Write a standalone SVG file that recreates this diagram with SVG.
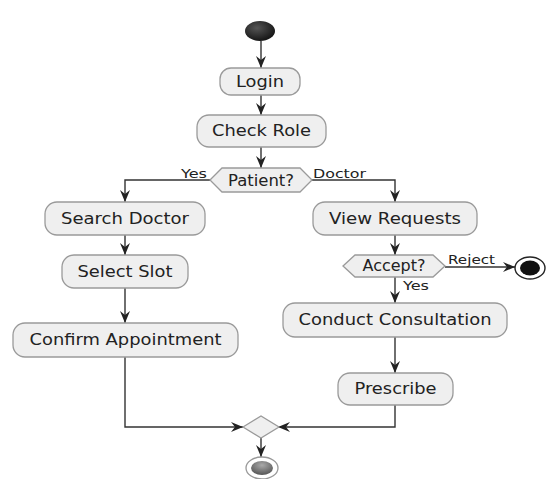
<svg xmlns="http://www.w3.org/2000/svg" width="547" height="479" viewBox="0 0 547 479">
<defs>
<style>
.box{fill:#EFEFEF;stroke:#9A9A9A;stroke-width:1.3}
.t{font-family:"DejaVu Sans",sans-serif;font-size:15px;fill:#222;text-anchor:middle}
.l{font-family:"DejaVu Sans",sans-serif;font-size:13px;fill:#222}
.c{fill:none;stroke:#333;stroke-width:1.4}
</style>
<marker id="ah" viewBox="0 0 12 10" refX="12" refY="5" markerWidth="12" markerHeight="10" markerUnits="userSpaceOnUse" orient="auto">
<path d="M0,0 L12,5 L0,10 L4,5 Z" fill="#222"/>
</marker>
<radialGradient id="sg" cx="0.4" cy="0.35" r="0.7">
<stop offset="0" stop-color="#555"/><stop offset="1" stop-color="#111"/>
</radialGradient>
<radialGradient id="eg" cx="0.5" cy="0.3" r="0.7">
<stop offset="0" stop-color="#aaa"/><stop offset="1" stop-color="#555"/>
</radialGradient>
</defs>
<rect width="547" height="479" fill="#fff"/>
<g id="connectors">
<path class="c" d="M261,41 V68" marker-end="url(#ah)"/>
<path class="c" d="M261,95 V115" marker-end="url(#ah)"/>
<path class="c" d="M261,147 V168" marker-end="url(#ah)"/>
<path class="c" d="M210,180 H125 V202" marker-end="url(#ah)"/>
<path class="c" d="M312,180 H395 V202" marker-end="url(#ah)"/>
<path class="c" d="M125,235 V255" marker-end="url(#ah)"/>
<path class="c" d="M125,288 V323" marker-end="url(#ah)"/>
<path class="c" d="M125,357 V427 H243" marker-end="url(#ah)"/>
<path class="c" d="M395,235 V255" marker-end="url(#ah)"/>
<path class="c" d="M445,267 H515" marker-end="url(#ah)"/>
<path class="c" d="M395,277 V303" marker-end="url(#ah)"/>
<path class="c" d="M395,337 V373" marker-end="url(#ah)"/>
<path class="c" d="M395,405 V427 H278" marker-end="url(#ah)"/>
<path class="c" d="M261,438 V457" marker-end="url(#ah)"/>
<text class="l" x="181" y="178" textLength="26" lengthAdjust="spacingAndGlyphs">Yes</text>
<text class="l" x="313" y="178" textLength="53" lengthAdjust="spacingAndGlyphs">Doctor</text>
<text class="l" x="448" y="264" textLength="47" lengthAdjust="spacingAndGlyphs">Reject</text>
<text class="l" x="403" y="290" textLength="26" lengthAdjust="spacingAndGlyphs">Yes</text>
</g>
<g id="start"><ellipse cx="260" cy="31" rx="15" ry="10" fill="url(#sg)"/></g>
<g id="login"><rect class="box" x="220" y="68" width="80" height="27" rx="11"/><text class="t" x="260" y="87" textLength="48" lengthAdjust="spacingAndGlyphs">Login</text></g>
<g id="checkrole"><rect class="box" x="197" y="115" width="129" height="32" rx="12"/><text class="t" x="261.5" y="136" textLength="99" lengthAdjust="spacingAndGlyphs">Check Role</text></g>
<g id="patient"><polygon class="box" points="210,180 222,168 300,168 312,180 300,192 222,192"/><text class="t" x="261" y="186" textLength="66" lengthAdjust="spacingAndGlyphs">Patient?</text></g>
<g id="searchdoctor"><rect class="box" x="45" y="202" width="160" height="33" rx="12"/><text class="t" x="125" y="224" textLength="128" lengthAdjust="spacingAndGlyphs">Search Doctor</text></g>
<g id="selectslot"><rect class="box" x="62" y="255" width="126" height="33" rx="12"/><text class="t" x="125" y="277" textLength="95" lengthAdjust="spacingAndGlyphs">Select Slot</text></g>
<g id="confirm"><rect class="box" x="13" y="323" width="225" height="34" rx="12"/><text class="t" x="125.5" y="345" textLength="192" lengthAdjust="spacingAndGlyphs">Confirm Appointment</text></g>
<g id="viewrequests"><rect class="box" x="313" y="202" width="164" height="33" rx="12"/><text class="t" x="395" y="224" textLength="132" lengthAdjust="spacingAndGlyphs">View Requests</text></g>
<g id="accept"><polygon class="box" points="343,266 355,255 433,255 445,266 433,277 355,277"/><text class="t" x="394" y="271" textLength="63" lengthAdjust="spacingAndGlyphs">Accept?</text></g>
<g id="rejectend"><ellipse cx="530" cy="268" rx="15" ry="11" fill="#fff" stroke="#222" stroke-width="1.4"/><ellipse cx="530" cy="268" rx="10" ry="7.5" fill="#111"/></g>
<g id="conduct"><rect class="box" x="283" y="303" width="224" height="34" rx="12"/><text class="t" x="395" y="325" textLength="193" lengthAdjust="spacingAndGlyphs">Conduct Consultation</text></g>
<g id="prescribe"><rect class="box" x="338" y="373" width="115" height="32" rx="12"/><text class="t" x="395.5" y="394" textLength="82" lengthAdjust="spacingAndGlyphs">Prescribe</text></g>
<g id="merge"><polygon class="box" points="243,427 261,416 279,427 261,438"/></g>
<g id="end"><ellipse cx="262" cy="468" rx="16" ry="11" fill="#fff" stroke="#999" stroke-width="1.3"/><ellipse cx="262" cy="468" rx="11" ry="7" fill="url(#eg)"/></g>
</svg>
